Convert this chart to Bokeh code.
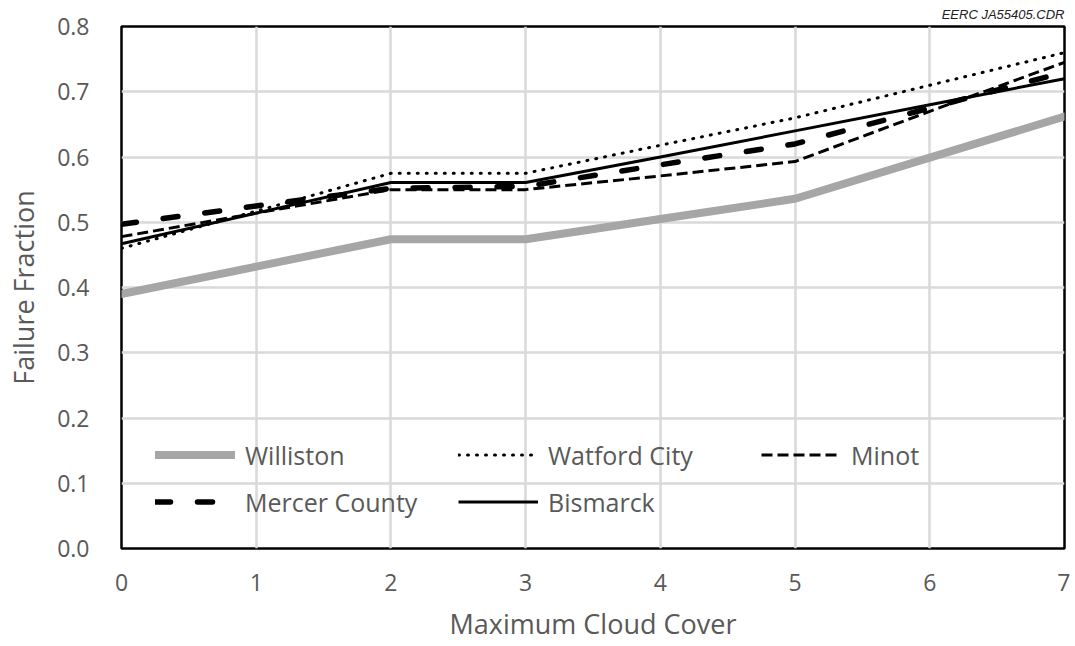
from bokeh.plotting import figure
from bokeh.models import Range1d, FixedTicker, PrintfTickFormatter, Legend, LegendItem, Title
from bokeh.embed import file_html
from bokeh.resources import INLINE

cloud_cover = [0, 1, 2, 3, 4, 5, 6, 7]
williston = [0.390, 0.432, 0.474, 0.474, 0.505, 0.536, 0.599, 0.662]
watford_city = [0.460, 0.517, 0.575, 0.575, 0.618, 0.660, 0.710, 0.760]
minot = [0.478, 0.514, 0.550, 0.550, 0.571, 0.593, 0.670, 0.745]
mercer_county = [0.497, 0.525, 0.552, 0.555, 0.588, 0.620, 0.675, 0.730]
bismarck = [0.467, 0.514, 0.561, 0.561, 0.600, 0.640, 0.680, 0.720]

x_ticks = [0, 1, 2, 3, 4, 5, 6, 7]
y_ticks = [0.0, 0.1, 0.2, 0.3, 0.4, 0.5, 0.6, 0.7, 0.8]

FONT = "Open Sans"
TXT = "#595959"

p = figure(width=1070, height=646, output_backend="svg", toolbar_location=None,
           x_range=Range1d(0, 7), y_range=Range1d(0, 0.8),
           min_border_left=121, min_border_right=6, min_border_top=26, min_border_bottom=98)

p.add_layout(Title(text="EERC JA55405.CDR", align="right", text_font="Liberation Sans",
                   text_font_style="italic", text_font_size="13px", text_color="#222222",
                   standoff=9, offset=0), "above")

p.outline_line_color = "black"
p.outline_line_width = 2.5

for ax in (p.xaxis, p.yaxis):
    ax.axis_line_color = None
    ax.major_tick_line_color = None
    ax.minor_tick_line_color = None
    ax.major_label_text_font = FONT
    ax.major_label_text_font_size = "23px"
    ax.major_label_text_color = TXT
    ax.axis_label_text_font = FONT
    ax.axis_label_text_font_size = "27px"
    ax.axis_label_text_font_style = "normal"
    ax.axis_label_text_color = TXT

p.xaxis.ticker = FixedTicker(ticks=x_ticks)
p.yaxis.ticker = FixedTicker(ticks=y_ticks)
p.yaxis.formatter = PrintfTickFormatter(format="%.1f")
p.xaxis.axis_label = "Maximum Cloud Cover"
p.yaxis.axis_label = "Failure Fraction"
p.xaxis.major_label_standoff = 19
p.xaxis.axis_label_standoff = 11
p.yaxis.major_label_standoff = 26
p.yaxis.axis_label_standoff = 12

p.xgrid.grid_line_color = "#d9d9d9"
p.ygrid.grid_line_color = "#d9d9d9"
p.xgrid.grid_line_width = 2.5
p.ygrid.grid_line_width = 2.5

r_will = p.line(cloud_cover, williston, line_color="#a6a6a6", line_width=8, line_cap="round")
r_watf = p.line(cloud_cover, watford_city, line_color="black", line_width=3, line_dash="1 8", line_cap="round")
r_mino = p.line(cloud_cover, minot, line_color="black", line_width=3, line_dash="11 5")
r_merc = p.line(cloud_cover, mercer_county, line_color="black", line_width=5.5, line_dash="15 27", line_cap="round")
r_bism = p.line(cloud_cover, bismarck, line_color="black", line_width=3)

# Bokeh fills legend columns first: order chosen so rows read
# Williston / Watford City / Minot and Mercer County / Bismarck
legend = Legend(items=[
    LegendItem(label="Williston", renderers=[r_will]),
    LegendItem(label="Mercer County", renderers=[r_merc]),
    LegendItem(label="Watford City", renderers=[r_watf]),
    LegendItem(label="Bismarck", renderers=[r_bism]),
    LegendItem(label="Minot", renderers=[r_mino]),
], ncols=3, location=(34, 28), glyph_width=80, glyph_height=37, label_height=37,
   label_width=203, label_standoff=10, spacing=10, padding=0, margin=0,
   border_line_color=None, background_fill_alpha=0,
   label_text_font=FONT, label_text_font_size="25px", label_text_color=TXT)
p.add_layout(legend)

open("out.html", "w").write(file_html(p, INLINE))
